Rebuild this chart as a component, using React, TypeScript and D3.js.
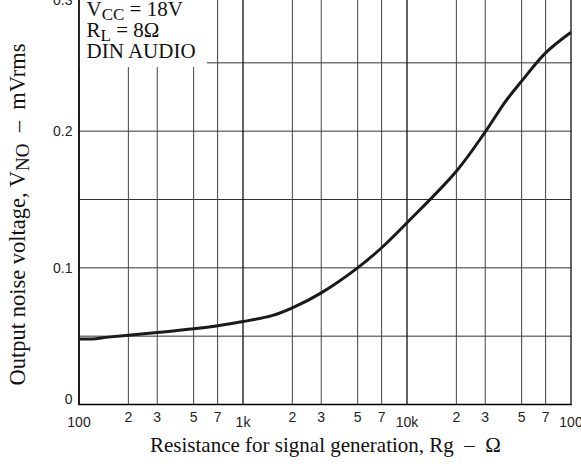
import React from "react";
import * as d3 from "d3";

const resistance = [100, 120, 150, 200, 300, 500, 700, 1000, 1500, 2000, 3000, 5000, 7000, 10000, 20000, 30000, 40000, 50000, 70000, 100000];
const noiseVoltage = [0.048, 0.048, 0.0493, 0.0507, 0.0527, 0.0554, 0.0576, 0.0607, 0.065, 0.0707, 0.0817, 0.1, 0.1147, 0.133, 0.1707, 0.1995, 0.222, 0.2366, 0.2573, 0.2724];

const xTickValues = [100, 200, 300, 500, 700, 1000, 2000, 3000, 5000, 7000, 10000, 20000, 30000, 50000, 70000, 100000];
const xTickLabels = ["100", "2", "3", "5", "7", "1k", "2", "3", "5", "7", "10k", "2", "3", "5", "7", "100"];
const majorX = [100, 1000, 10000, 100000];

const yTickValues = [0, 0.1, 0.2, 0.3];
const yTickLabels = ["0", "0.1", "0.2", "0.3"];
const yGridValues = [0.05, 0.1, 0.15, 0.2, 0.25];

const W = 581;
const H = 472;

export default function App() {
  const x = d3.scaleLog().domain([100, 100000]).range([79, 571]);
  const y = d3.scaleLinear().domain([0, 0.3]).range([404.5, -5.5]);

  const line = d3
    .line<number>()
    .x((_, i) => x(resistance[i]))
    .y((d) => y(d))
    .curve(d3.curveCatmullRom.alpha(0.5));

  const serif = "'Liberation Serif', 'Times New Roman', serif";
  const sans = "'Liberation Sans', Arial, sans-serif";

  const boxRight = 207;
  const boxBottom = 67;

  return (
    <svg
      width={W}
      height={H}
      style={{ position: "absolute", left: 0, top: 0, background: "#fff" }}
    >
      <rect x={0} y={0} width={W} height={H} fill="#fff" />
      {/* horizontal grid */}
      {yGridValues.map((v) => (
        <line
          key={"h" + v}
          x1={x(100)}
          x2={x(100000)}
          y1={y(v)}
          y2={y(v)}
          stroke="#333"
          strokeWidth={1}
        />
      ))}
      {/* vertical grid */}
      {xTickValues.map((v) => {
        const major = majorX.includes(v);
        return (
          <line
            key={"v" + v}
            x1={x(v)}
            x2={x(v)}
            y1={y(0)}
            y2={-6}
            stroke={major ? "#111" : "#444"}
            strokeWidth={major ? 1.3 : 1}
          />
        );
      })}
      {/* legend box */}
      <rect x={x(100) + 0.7} y={-6} width={boxRight - x(100) - 0.7} height={boxBottom + 6} fill="#fff" />
      {/* axes */}
      <line x1={x(100)} x2={x(100)} y1={y(0)} y2={-6} stroke="#000" strokeWidth={1.4} />
      <line x1={x(100) - 0.7} x2={x(100000) + 0.7} y1={y(0)} y2={y(0)} stroke="#000" strokeWidth={1.4} />

      {/* curve */}
      <path d={line(noiseVoltage) || ""} fill="none" stroke="#1a1a1a" strokeWidth={3} strokeLinejoin="round" />

      {/* y tick labels */}
      {yTickValues.map((v, i) => (
        <text
          key={"yt" + v}
          x={72.5}
          y={y(v) + (v === 0 ? -6 : v === 0.3 ? 5 : 0)}
          textAnchor="end"
          dominantBaseline="central"
          fontFamily={sans}
          fontSize={14}
          fill="#222"
        >
          {yTickLabels[i]}
        </text>
      ))}
      {/* x tick labels */}
      {xTickValues.map((v, i) => {
        const major = majorX.includes(v);
        return (
          <text
            key={"xt" + v}
            x={x(v)}
            y={major ? 426.7 : 421.7}
            textAnchor="middle"
            fontFamily={sans}
            fontSize={14}
            fill="#222"
          >
            {xTickLabels[i]}
          </text>
        );
      })}

      {/* legend text */}
      <g fontFamily={serif} fontSize={21} fill="#111">
        <text x={86.5} y={16}>
          V<tspan fontSize={17} dy={4}>CC</tspan>
          <tspan dy={-4}> = 18V</tspan>
        </text>
        <text x={86.5} y={37}>
          R<tspan fontSize={17} dy={4}>L</tspan>
          <tspan dy={-4}> = 8Ω</tspan>
        </text>
        <text x={86.5} y={58}>DIN AUDIO</text>
      </g>

      {/* x title */}
      <text
        x={325.5}
        y={451.5}
        textAnchor="middle"
        fontFamily={serif}
        fontSize={21}
        fill="#111"
        xmlSpace="preserve"
      >
        {"Resistance for signal generation, Rg \u00a0\u2013\u00a0 \u03a9"}
      </text>

      {/* y title */}
      <text
        transform={`translate(25,214.5) rotate(-90)`}
        textAnchor="middle"
        fontFamily={serif}
        fontSize={22.5}
        fill="#111"
      >
        Output noise voltage, V<tspan fontSize={19} dy={4}>NO</tspan>
        <tspan dy={-4}>{" \u00a0\u2013\u00a0 mVrms"}</tspan>
      </text>
    </svg>
  );
}
